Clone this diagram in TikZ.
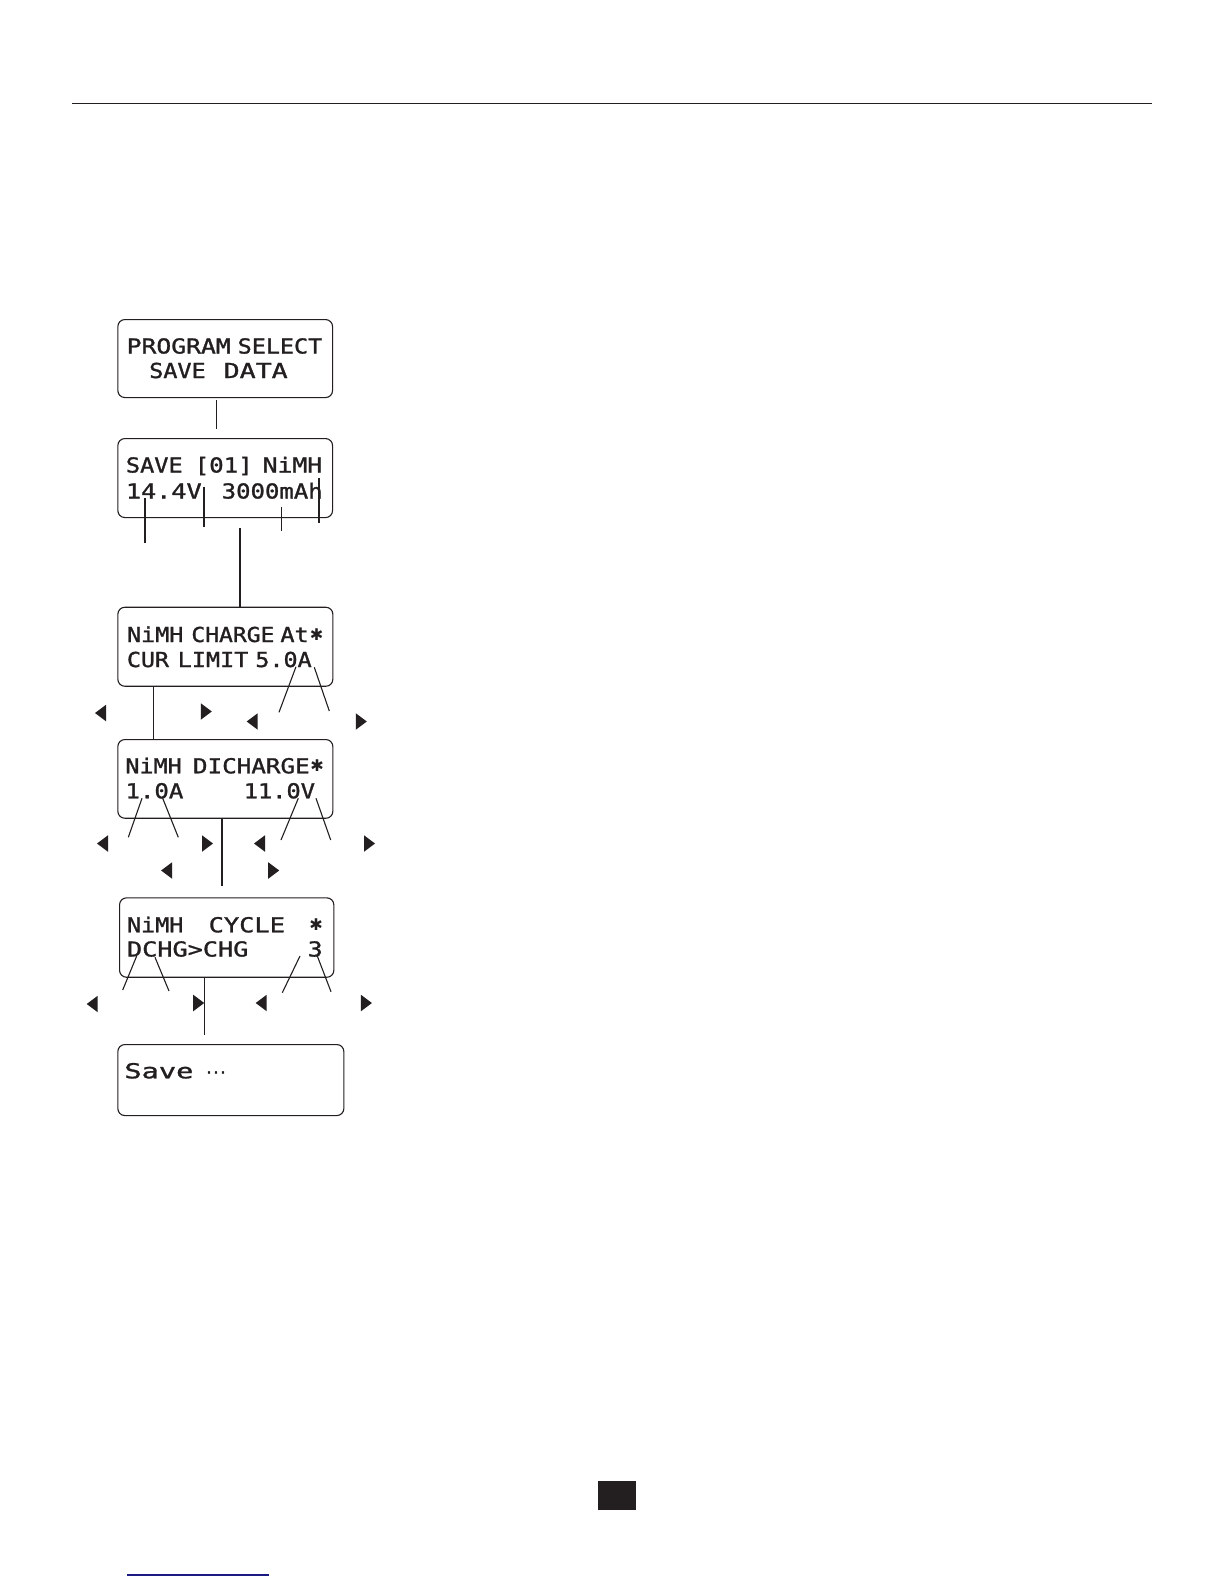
\documentclass[tikz,border=0pt]{standalone}
\usepackage{fontspec}
\usepackage{graphicx}
\newfontfamily\lcd[FakeBold=1.2]{DejaVu Sans Mono}
\newfontfamily\symf{DejaVu Sans}
\definecolor{ink}{HTML}{231F20}
\definecolor{navyrule}{HTML}{1A1A80}
\newcommand\lw[2]{\resizebox{#1pt}{\height}{\lcd\fontsize{20.6}{24}\selectfont #2}}
\newcommand\lstar{\resizebox{13.5pt}{!}{\symf ✱}}
\newcommand\lcddots{{\symf\fontsize{21}{24}\selectfont ⋯}}
\begin{document}
\begin{tikzpicture}[x=1pt,y=-1pt,
  lcdbox/.style={draw=ink, line width=1.1pt, rounded corners=7pt, inner sep=0pt, anchor=north west},
  word/.style={anchor=base west, inner sep=0pt, text=ink},
  starnode/.style={anchor=center, inner sep=0pt, text=ink},
  lead/.style={draw=ink, line width=1.1pt},
  keyl/.style={minimum width=11pt, minimum height=16.5pt, inner sep=0pt,
    path picture={\fill[ink] (path picture bounding box.north east) -- (path picture bounding box.south east) -- (path picture bounding box.west) -- cycle;}},
  keyr/.style={minimum width=11pt, minimum height=16.5pt, inner sep=0pt,
    path picture={\fill[ink] (path picture bounding box.north west) -- (path picture bounding box.south west) -- (path picture bounding box.east) -- cycle;}}
]
\useasboundingbox[fill=white] (0,0) rectangle (1224,1584);

% header rule, footer marks
\coordinate (r1) at (72,103.3);
\coordinate (r2) at (1151.7,103.3);
\draw[ink, line width=1.4pt] (r1) -- (r2);
\node[fill=ink, inner sep=0pt, minimum width=38.4pt, minimum height=28.3pt, anchor=north west] (pg) at (597.3,1481) {};
\coordinate (u1) at (127.3,1575);
\coordinate (u2) at (269,1575);
\draw[navyrule, line width=1.2pt] (u1) -- (u2);

% boxes
\node[lcdbox, minimum width=214.7pt, minimum height=78pt] (b1) at (117.3,319) {};
\node[lcdbox, minimum width=214.7pt, minimum height=79pt] (b2) at (117.3,438) {};
\node[lcdbox, minimum width=215pt, minimum height=79pt] (b3) at (117.3,606.7) {};
\node[lcdbox, minimum width=215pt, minimum height=78.7pt] (b4) at (117.3,739) {};
\node[lcdbox, minimum width=214.3pt, minimum height=79.4pt] (b5) at (119,897.3) {};
\node[lcdbox, minimum width=226pt, minimum height=71pt] (b6) at (117.3,1044) {};

% box 1 text
\node[word] (t11) at (126.5,353.5) {\lw{104}{PROGRAM}};
\node[word] (t12) at (237.5,353.5) {\lw{84.5}{SELECT}};
\node[word] (t13) at (149,378) {\lw{56.5}{SAVE}};
\node[word] (t14) at (223.5,378) {\lw{64}{DATA}};
% box 2 text
\node[word] (t21) at (125.7,472.5) {\lw{56.8}{SAVE}};
\node[word] (t22) at (194.5,472.5) {\lw{58}{[01]}};
\node[word] (t23) at (262.5,472.5) {\lw{59.5}{NiMH}};
\node[word] (t24) at (125.7,498.5) {\lw{75.8}{14.4V}};
\node[word] (t25) at (221.5,498.5) {\lw{101}{3000mAh}};
% box 3 text
\node[word] (t31) at (126.8,642) {\lw{56.4}{NiMH}};
\node[word] (t32) at (191.2,642) {\lw{83}{CHARGE}};
\node[word] (t33) at (280.2,642) {\lw{28.3}{At}};
\node[starnode] (t34) at (316.5,634.5) {\lstar};
\node[word] (t35) at (126.8,667) {\lw{42}{CUR}};
\node[word] (t36) at (177.5,667) {\lw{70.7}{LIMIT}};
\node[word] (t37) at (255.2,667) {\lw{56.3}{5.0A}};
% box 4 text
\node[word] (t41) at (125.2,773.3) {\lw{56.3}{NiMH}};
\node[word] (t42) at (192.8,773.3) {\lw{116.7}{DICHARGE}};
\node[starnode] (t43) at (317,765.8) {\lstar};
\node[word] (t44) at (125.2,798.3) {\lw{58}{1.0A}};
\node[word] (t45) at (243.5,798.3) {\lw{71.3}{11.0V}};
% box 5 text
\node[word] (t51) at (126.8,932.3) {\lw{56.4}{NiMH}};
\node[word] (t52) at (208.5,932.3) {\lw{76.3}{CYCLE}};
\node[starnode] (t53) at (316,924.8) {\lstar};
\node[word] (t54) at (126.8,956.5) {\lw{121.4}{DCHG>CHG}};
\node[word] (t55) at (307.5,956.5) {\lw{15}{3}};
% box 6 text
\node[word] (t61) at (124.2,1078.3) {\lw{69}{Save}};
\node[word] (t62) at (205.5,1079.5) {\lcddots};

% connectors between boxes
\coordinate (c12a) at (216.5,400);
\coordinate (c12b) at (216.5,429);
\draw[lead] (c12a) -- (c12b);
\coordinate (c23) at (240,528);
\draw[lead] (c23) -- (c23 |- b3.north);
\coordinate (c34) at (153.3,686);
\draw[lead] (c34 |- b3.south) -- (c34 |- b4.north);
\coordinate (c45a) at (222,819);
\coordinate (c45b) at (222,886);
\draw[lead] (c45a) -- (c45b);
\coordinate (c56a) at (204.3,977);
\coordinate (c56b) at (204.3,1035);
\draw[lead] (c56a) -- (c56b);

% box 2 leaders
\coordinate (p1a) at (145,498); \coordinate (p1b) at (145,543);
\coordinate (p2a) at (204,486.7); \coordinate (p2b) at (204,526.7);
\coordinate (p3a) at (281.7,506.7); \coordinate (p3b) at (281.7,531);
\coordinate (p4a) at (319,478.3); \coordinate (p4b) at (319,523.3);
\draw[lead] (p1a) -- (p1b);
\draw[lead] (p2a) -- (p2b);
\draw[lead] (p3a) -- (p3b);
\draw[lead] (p4a) -- (p4b);

% box 3 leaders and keys
\coordinate (q1a) at (296,666.7); \coordinate (q1b) at (279,712.3);
\coordinate (q2a) at (314.3,667.3); \coordinate (q2b) at (329.3,711);
\draw[lead] (q1a) -- (q1b);
\draw[lead] (q2a) -- (q2b);
\node[keyl] (k1) at (100.5,713) {};
\node[keyr] (k2) at (206.3,711.5) {};
\node[keyl] (k3) at (252.2,721.5) {};
\node[keyr] (k4) at (361.3,721.5) {};

% box 4 leaders and keys
\coordinate (s1a) at (142,798.3); \coordinate (s1b) at (128.3,837.3);
\coordinate (s2a) at (162.7,798.3); \coordinate (s2b) at (178.3,837.3);
\coordinate (s3a) at (298.3,798.3); \coordinate (s3b) at (281,840);
\coordinate (s4a) at (316,798.3); \coordinate (s4b) at (330.7,840);
\draw[lead] (s1a) -- (s1b);
\draw[lead] (s2a) -- (s2b);
\draw[lead] (s3a) -- (s3b);
\draw[lead] (s4a) -- (s4b);
\node[keyl] (k5) at (102.5,843.5) {};
\node[keyr] (k6) at (207.5,843.5) {};
\node[keyl] (k7) at (259.5,843.5) {};
\node[keyr] (k8) at (369.5,843.5) {};
\node[keyl] (k9) at (166.6,870.5) {};
\node[keyr] (k10) at (273.7,870.5) {};

% box 5 leaders and keys
\coordinate (v1a) at (136.7,956); \coordinate (v1b) at (122.7,990);
\coordinate (v2a) at (155,957.3); \coordinate (v2b) at (169,991);
\coordinate (v3a) at (300,956); \coordinate (v3b) at (282.3,992.7);
\coordinate (v4a) at (317.3,956); \coordinate (v4b) at (331,991.7);
\draw[lead] (v1a) -- (v1b);
\draw[lead] (v2a) -- (v2b);
\draw[lead] (v3a) -- (v3b);
\draw[lead] (v4a) -- (v4b);
\node[keyl] (k11) at (92.2,1004) {};
\node[keyr] (k12) at (198.7,1003) {};
\node[keyl] (k13) at (261.2,1003) {};
\node[keyr] (k14) at (366.4,1003) {};
\end{tikzpicture}
\end{document}
